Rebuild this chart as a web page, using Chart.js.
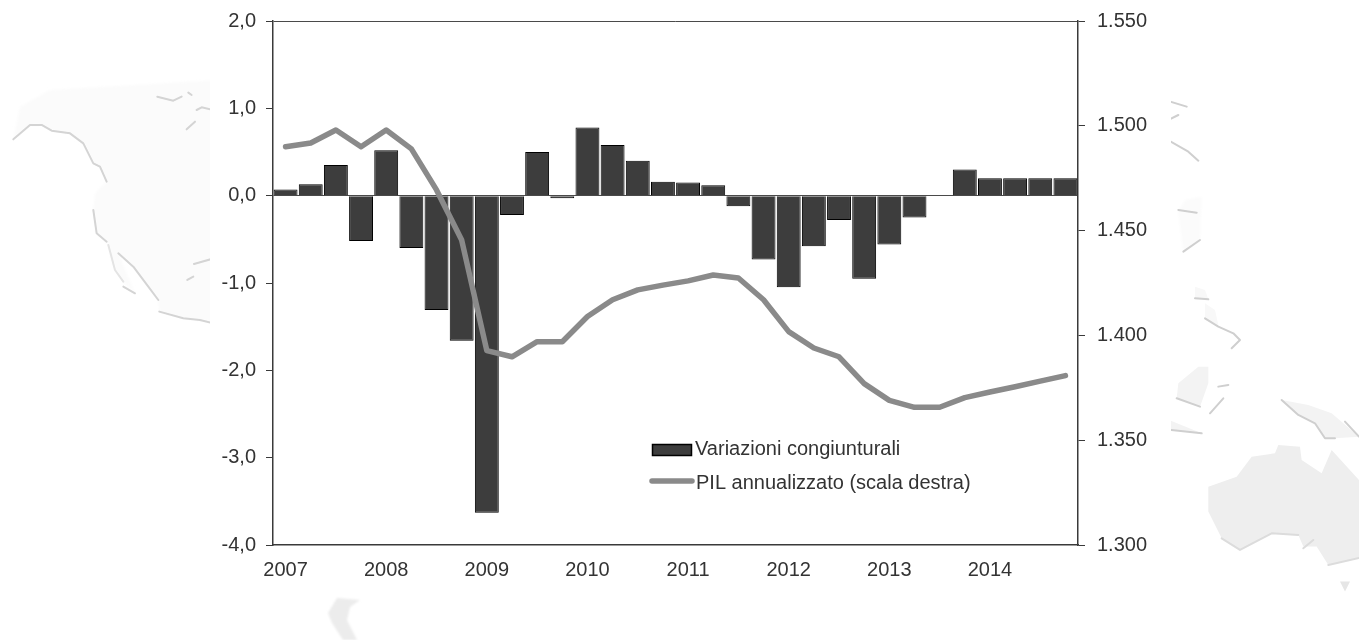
<!DOCTYPE html>
<html>
<head>
<meta charset="utf-8">
<script src="https://cdn.jsdelivr.net/npm/chart.js@4/dist/chart.umd.min.js"></script>
<style>
  html, body { margin: 0; padding: 0; background: #fff; overflow: hidden; }
  #wrap { position: relative; width: 1359px; height: 640px; }
  #map, #chart { position: absolute; left: 0; top: 0; }
</style>
</head>
<body>
<div id="wrap">
  <!-- Pale world map sitting behind the chart -->
  <svg id="map" width="1359" height="640" viewBox="0 0 1359 640">
    <defs>
      <filter id="soft" x="-20%" y="-20%" width="140%" height="140%"><feGaussianBlur stdDeviation="1.1"/></filter>
      <filter id="softer" x="-20%" y="-20%" width="140%" height="140%"><feGaussianBlur stdDeviation="4"/></filter>
      <clipPath id="mapLeft"><rect x="0" y="0" width="210" height="640"/></clipPath>
      <clipPath id="mapRight"><rect x="1171" y="0" width="188" height="640"/></clipPath>
    </defs>
    <g clip-path="url(#mapLeft)">
      <g transform="translate(0,70) scale(0.3333)">
        <path filter="url(#softer)" fill="#fbfbfb" d="M40 208L90 165L125 165L155 182L210 190L250 220L280 280L300 290L320 335L285 370L280 420L290 490L320 515L345 600L370 635L405 670L355 550L400 590L445 650L475 690L478 725L550 745L600 750L660 760L660 30L150 60L60 110Z"/>
        <g filter="url(#soft)" fill="none" stroke="#d4d4d4" stroke-width="6" stroke-linejoin="round" stroke-linecap="round">
          <path d="M40 208L90 165L125 165L155 182L210 190L250 220L280 280L300 290L320 335"/>
          <path d="M280 420L290 490L320 515"/>
          <path d="M325 525L345 600L370 635" stroke="#e4e4e4"/>
          <path d="M370 650L405 670"/>
          <path d="M355 550L400 590L445 650L475 690"/>
          <path d="M478 725L550 745L600 750L660 765"/>
          <path d="M472 80L520 92L545 80"/>
          <path d="M565 68L575 75"/>
          <path d="M590 120L605 112L660 125"/>
          <path d="M560 178L585 155"/>
          <path d="M582 582L660 560"/>
          <path d="M562 630L580 620"/>
        </g>
      </g>
    </g>
    <g clip-path="url(#mapRight)">
      <g transform="translate(1165,90) scale(0.3333)">
        <path filter="url(#softer)" fill="#fbfbfb" d="M60 330L110 320L105 450L55 485L40 365Z"/>
        <g filter="url(#soft)" fill="#f3f3f3">
          <path d="M130 830L100 830L40 880L35 925L105 950L130 880Z"/>
          <path d="M0 985L110 1030L0 1020Z"/>
          <path d="M350 930L430 945L500 970L582 1040L510 1045L480 1045L450 1000L400 975Z"/>
          <path d="M90 590L120 600L130 628L90 625Z" fill="#f8f8f8"/>
          <path d="M120 640L150 660L160 705L120 685Z" fill="#f8f8f8"/>
        </g>
        <path filter="url(#soft)" fill="#eeeeee" d="M130 1190L215 1160L260 1100L330 1090L340 1065L405 1070L410 1110L470 1150L500 1080L600 1190L600 1400L490 1425L455 1370L415 1370L400 1335L320 1330L225 1380L170 1345L130 1265Z"/>
        <path filter="url(#soft)" fill="#e6e6e6" d="M525 1475L555 1475L540 1505Z"/>
        <g filter="url(#soft)" fill="none" stroke="#cfcfcf" stroke-width="6" stroke-linejoin="round" stroke-linecap="round">
          <path d="M0 30L65 50"/>
          <path d="M0 95L40 75"/>
          <path d="M0 145L70 185L100 212"/>
          <path d="M40 360L95 368"/>
          <path d="M55 485L105 450"/>
          <path d="M90 625L130 628"/>
          <path d="M120 685L160 710L205 730L225 750L200 775"/>
          <path d="M35 925L105 950"/>
          <path d="M160 890L190 885"/>
          <path d="M135 970L175 925"/>
          <path d="M0 1018L110 1030"/>
          <path d="M350 930L400 975L450 1000L480 1045L510 1045"/>
          <path d="M540 995L582 1040"/>
          <path d="M170 1345L225 1380L320 1330L400 1335" stroke="#dcdcdc"/>
          <path d="M415 1375L445 1350" stroke="#dcdcdc"/>
          <path d="M490 1425L600 1400" stroke="#dcdcdc"/>
        </g>
      </g>
    </g>
    <path filter="url(#soft)" fill="#ececec" d="M337 598L360 600L350 607L347 620L357 640L343 640L332 623L328 613Z"/>
  </svg>
  <canvas id="chart" width="1359" height="640"></canvas>
</div>
<script>
// Quarter labels: only the first quarter of each year carries a label.
const categories = [
  '2007','','','', '2008','','','', '2009','','','', '2010','','','',
  '2011','','','', '2012','','','', '2013','','','', '2014','','',''
];
// Quarter-on-quarter change, left scale.
const variazioni = [
  0.07, 0.13, 0.35, -0.52, 0.52, -0.60, -1.31, -1.66,
  -3.63, -0.22, 0.50, -0.03, 0.78, 0.58, 0.40, 0.16,
  0.15, 0.12, -0.12, -0.73, -1.05, -0.58, -0.28, -0.95,
  -0.56, -0.25, 0.00, 0.30, 0.20, 0.20, 0.20, 0.20
];
// Annualised GDP, right scale.
const pil = [
  1.4900, 1.4918, 1.4980, 1.4900, 1.4980, 1.4890, 1.4694, 1.4455,
  1.3927, 1.3898, 1.3970, 1.3970, 1.4090, 1.4170, 1.4217, 1.4240,
  1.4260, 1.4288, 1.4274, 1.4170, 1.4018, 1.3940, 1.3898, 1.3770,
  1.3690, 1.3657, 1.3657, 1.3703, 1.3730, 1.3755, 1.3782, 1.3808
];
const leftTicks = [2, 1, 0, -1, -2, -3, -4];
const rightTicks = [1.55, 1.5, 1.45, 1.4, 1.35, 1.3];

const FONT = 'Liberation Sans';
const TEXT = '#333333';
const AXIS = '#3a3a3a';

// Legend placed inside the plot area, labels taken from the datasets.
const innerLegend = {
  id: 'innerLegend',
  afterDraw(chart) {
    const { ctx } = chart;
    const [lineSet, barSet] = chart.data.datasets;
    ctx.save();
    ctx.font = `20px "${FONT}"`;
    ctx.fillStyle = TEXT;
    ctx.textBaseline = 'middle';
    ctx.textAlign = 'left';
    ctx.fillText(barSet.label, 695, 449);
    ctx.fillText(lineSet.label, 696, 483);
    ctx.fillStyle = barSet.backgroundColor;
    ctx.strokeStyle = barSet.borderColor;
    ctx.lineWidth = 1.5;
    ctx.fillRect(652.5, 444.5, 39, 11);
    ctx.strokeRect(652.5, 444.5, 39, 11);
    ctx.strokeStyle = lineSet.borderColor;
    ctx.lineWidth = lineSet.borderWidth;
    ctx.lineCap = 'round';
    ctx.beginPath();
    ctx.moveTo(652, 481);
    ctx.lineTo(692, 481);
    ctx.stroke();
    ctx.restore();
  }
};

// Keeps the plot rectangle independent of how far tick labels overhang it.
const noOverhang = s => {
  s.paddingTop = 0;
  s.paddingBottom = 0;
  s.paddingLeft = 0;
  s.paddingRight = 0;
};

new Chart(document.getElementById('chart'), {
  type: 'bar',
  data: {
    labels: categories,
    datasets: [
      {
        type: 'line',
        label: 'PIL annualizzato (scala destra)',
        data: pil,
        yAxisID: 'y2',
        borderColor: '#8a8a8a',
        borderWidth: 5.5,
        borderCapStyle: 'round',
        borderJoinStyle: 'round',
        pointRadius: 0,
        tension: 0,
        order: 0
      },
      {
        type: 'bar',
        label: 'Variazioni congiunturali',
        data: variazioni,
        yAxisID: 'y',
        backgroundColor: '#3d3d3d',
        borderColor: '#000000',
        borderWidth: 1,
        categoryPercentage: 1,
        barPercentage: 0.95,
        order: 1
      }
    ]
  },
  options: {
    responsive: false,
    animation: false,
    layout: { padding: { top: 21, left: 0, right: 0, bottom: 0 } },
    plugins: { legend: { display: false }, tooltip: { enabled: false } },
    scales: {
      x: {
        grid: { display: false, drawTicks: false },
        border: { display: true, color: AXIS, width: 1.5 },
        afterFit(s) { s.height = 95; noOverhang(s); },
        ticks: {
          autoSkip: false,
          maxRotation: 0,
          padding: 13,
          color: TEXT,
          font: { family: FONT, size: 20 }
        }
      },
      y: {
        position: 'left',
        min: -4,
        max: 2,
        afterFit(s) { s.width = 273; noOverhang(s); },
        afterBuildTicks(s) { s.ticks = leftTicks.map(v => ({ value: v })); },
        grid: {
          drawTicks: true,
          tickLength: 7,
          tickColor: AXIS,
          lineWidth: 1,
          color: c => (c.tick.value === 0 || c.tick.value === 2) ? '#4a4a4a' : 'transparent'
        },
        border: { color: AXIS, width: 1.5 },
        ticks: {
          padding: 10,
          color: TEXT,
          font: { family: FONT, size: 20 },
          callback: v => v.toFixed(1).replace('.', ',')
        }
      },
      y2: {
        position: 'right',
        min: 1.3,
        max: 1.55,
        afterFit(s) { s.width = 281; noOverhang(s); },
        afterBuildTicks(s) { s.ticks = rightTicks.map(v => ({ value: v })); },
        grid: {
          drawOnChartArea: false,
          drawTicks: true,
          tickLength: 7,
          tickColor: AXIS
        },
        border: { color: AXIS, width: 1.5 },
        ticks: {
          padding: 12,
          color: TEXT,
          font: { family: FONT, size: 20 },
          callback: v => v.toFixed(3)
        }
      }
    }
  },
  plugins: [innerLegend]
});
</script>
</body>
</html>
